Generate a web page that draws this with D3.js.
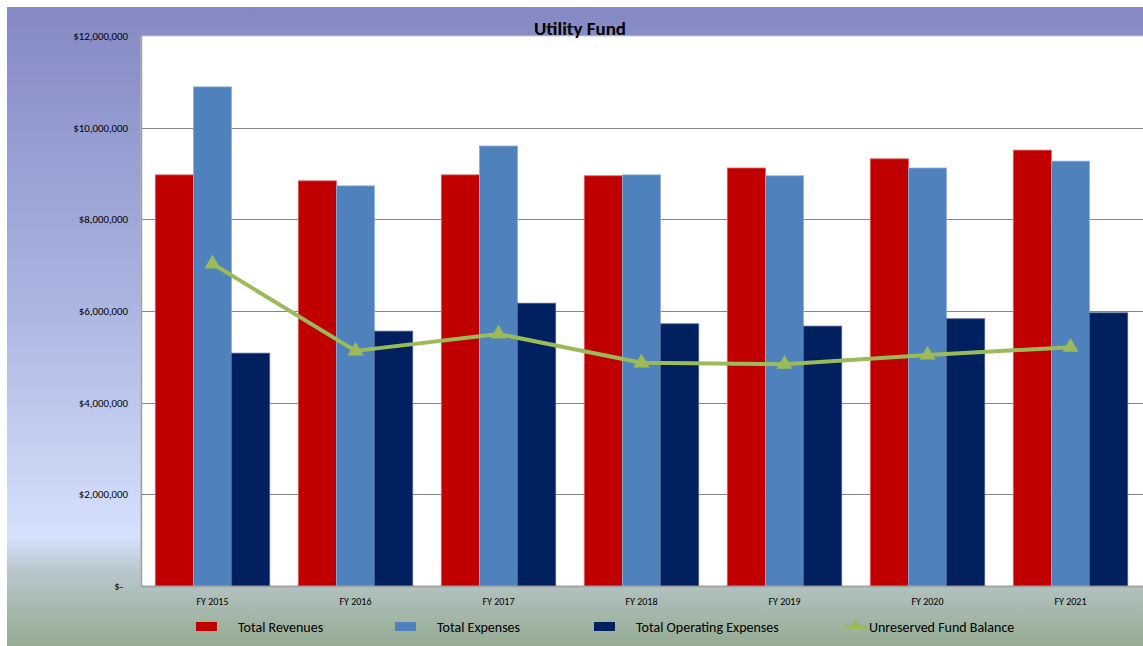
<!DOCTYPE html>
<html lang="en">
<head>
  <meta charset="utf-8">
  <script src="https://d3js.org/d3.v7.min.js"></script>
  <title>Utility Fund</title>
  <style>
    body { margin: 0; background: #fff; }
    text { font-family: Calibri, Carlito, Lato, "Open Sans", sans-serif; fill: #000; }
  </style>
</head>
<body>
<script>
  var width = 1143, height = 646;

  // data
  var years = ['FY 2015', 'FY 2016', 'FY 2017', 'FY 2018', 'FY 2019', 'FY 2020', 'FY 2021'];
  var totalRevenues = [8970000, 8840000, 8970000, 8950000, 9120000, 9320000, 9510000];
  var totalExpenses = [10890000, 8730000, 9600000, 8970000, 8950000, 9120000, 9270000];
  var operatingExpenses = [5080000, 5560000, 6170000, 5720000, 5670000, 5830000, 5960000];
  var fundBalance = [7030000, 5130000, 5500000, 4870000, 4840000, 5040000, 5210000];
  var yTicks = [0, 2000000, 4000000, 6000000, 8000000, 10000000, 12000000];

  var barSeries = [
    {name: 'Total Revenues', values: totalRevenues, color: '#C00000', edge: '#E06060'},
    {name: 'Total Expenses', values: totalExpenses, color: '#4F81BD', edge: '#8DB0DA'},
    {name: 'Total Operating Expenses', values: operatingExpenses, color: '#002060', edge: '#4A5F8F'}
  ];

  var plot = {left: 141, right: 1142, top: 36, bottom: 586};

  var svg = d3.select('body').append('svg')
    .attr('width', width)
    .attr('height', height);

  // background gradient
  var defs = svg.append('defs');
  var grad = defs.append('linearGradient')
    .attr('id', 'bg')
    .attr('x1', 0).attr('y1', 0).attr('x2', 0).attr('y2', 1);
  grad.append('stop').attr('offset', '0').attr('stop-color', '#8489C3');
  grad.append('stop').attr('offset', '0.45').attr('stop-color', '#AAB3E0');
  grad.append('stop').attr('offset', '0.83').attr('stop-color', '#D6E1FD');
  grad.append('stop').attr('offset', '0.88').attr('stop-color', '#BAC8CE');
  grad.append('stop').attr('offset', '1').attr('stop-color', '#95AB91');

  svg.append('rect')
    .attr('x', 7).attr('y', 7)
    .attr('width', width).attr('height', height - 7)
    .attr('fill', 'url(#bg)');

  // plot area
  svg.append('rect')
    .attr('x', plot.left).attr('y', plot.top)
    .attr('width', width - plot.left + 5).attr('height', plot.bottom - plot.top)
    .attr('fill', '#fff')
    .attr('stroke', '#C8C8C8');

  var x = d3.scaleBand()
    .domain(years)
    .range([plot.left, plot.right])
    .paddingInner(0.2)
    .paddingOuter(0.1);

  var xSub = d3.scaleBand()
    .domain(barSeries.map(function(d) { return d.name; }))
    .range([0, x.bandwidth()]);

  var y = d3.scaleLinear()
    .domain([0, 12000000])
    .range([plot.bottom, plot.top]);

  // gridlines
  svg.append('g')
    .selectAll('line')
    .data(yTicks.slice(1, -1))
    .join('line')
    .attr('x1', plot.left).attr('x2', width)
    .attr('y1', function(d) { return Math.round(y(d)) + 0.5; })
    .attr('y2', function(d) { return Math.round(y(d)) + 0.5; })
    .attr('stroke', '#868686');

  // bars
  barSeries.forEach(function(s) {
    svg.append('g')
      .selectAll('rect')
      .data(s.values)
      .join('rect')
      .attr('x', function(d, i) { return x(years[i]) + xSub(s.name); })
      .attr('y', function(d) { return y(d); })
      .attr('width', xSub.bandwidth())
      .attr('height', function(d) { return plot.bottom - y(d); })
      .attr('fill', s.color)
      .attr('stroke', s.edge)
      .attr('stroke-width', 0.8);
  });

  // axes lines
  svg.append('line')
    .attr('x1', plot.left + 0.5).attr('x2', plot.left + 0.5)
    .attr('y1', plot.top).attr('y2', plot.bottom + 1)
    .attr('stroke', '#A0A0A0').attr('stroke-width', 1.5);
  svg.append('line')
    .attr('x1', plot.left).attr('x2', width)
    .attr('y1', plot.bottom + 0.5).attr('y2', plot.bottom + 0.5)
    .attr('stroke', '#A0A0A0').attr('stroke-width', 1.5);

  // fund balance line
  var line = d3.line()
    .x(function(d, i) { return x(years[i]) + x.bandwidth() / 2; })
    .y(function(d) { return y(d); });

  svg.append('path')
    .datum(fundBalance)
    .attr('d', line)
    .attr('fill', 'none')
    .attr('stroke', '#9BBB59')
    .attr('stroke-width', 4)
    .attr('stroke-linejoin', 'round');

  var tri = d3.symbol().type(d3.symbolTriangle).size(110);
  svg.append('g')
    .selectAll('path')
    .data(fundBalance)
    .join('path')
    .attr('d', tri)
    .attr('transform', function(d, i) {
      return 'translate(' + (x(years[i]) + x.bandwidth() / 2) + ',' + y(d) + ')';
    })
    .attr('fill', '#9BBB59');

  // y labels
  var fmt = d3.format(',');
  svg.append('g')
    .selectAll('text')
    .data(yTicks)
    .join('text')
    .attr('x', function(d) { return d === 0 ? 123 : 128; })
    .attr('y', function(d) { return y(d) + 4; })
    .attr('text-anchor', 'end')
    .style('font-size', '10.8px')
    .text(function(d) { return d === 0 ? '$-' : '$' + fmt(d); });

  // x labels
  svg.append('g')
    .selectAll('text')
    .data(years)
    .join('text')
    .attr('x', function(d) { return x(d) + x.bandwidth() / 2; })
    .attr('y', 605)
    .attr('text-anchor', 'middle')
    .style('font-size', '10px')
    .text(function(d) { return d; });

  // title
  svg.append('text')
    .attr('x', 580).attr('y', 35)
    .attr('text-anchor', 'middle')
    .style('font-size', '19px')
    .style('font-weight', 'bold')
    .text('Utility Fund');

  // legend
  var legendX = [196, 395, 594];
  barSeries.forEach(function(s, i) {
    svg.append('rect')
      .attr('x', legendX[i]).attr('y', 622)
      .attr('width', 21).attr('height', 9)
      .attr('fill', s.color);
    svg.append('text')
      .attr('x', legendX[i] + 42).attr('y', 632)
      .style('font-size', '14px')
      .text(s.name);
  });
  svg.append('line')
    .attr('x1', 845).attr('x2', 868)
    .attr('y1', 627).attr('y2', 627)
    .attr('stroke', '#9BBB59').attr('stroke-width', 4);
  svg.append('path')
    .attr('d', d3.symbol().type(d3.symbolTriangle).size(60))
    .attr('transform', 'translate(856,626)')
    .attr('fill', '#9BBB59');
  svg.append('text')
    .attr('x', 869).attr('y', 632)
    .style('font-size', '14px')
    .text('Unreserved Fund Balance');
</script>
</body>
</html>
